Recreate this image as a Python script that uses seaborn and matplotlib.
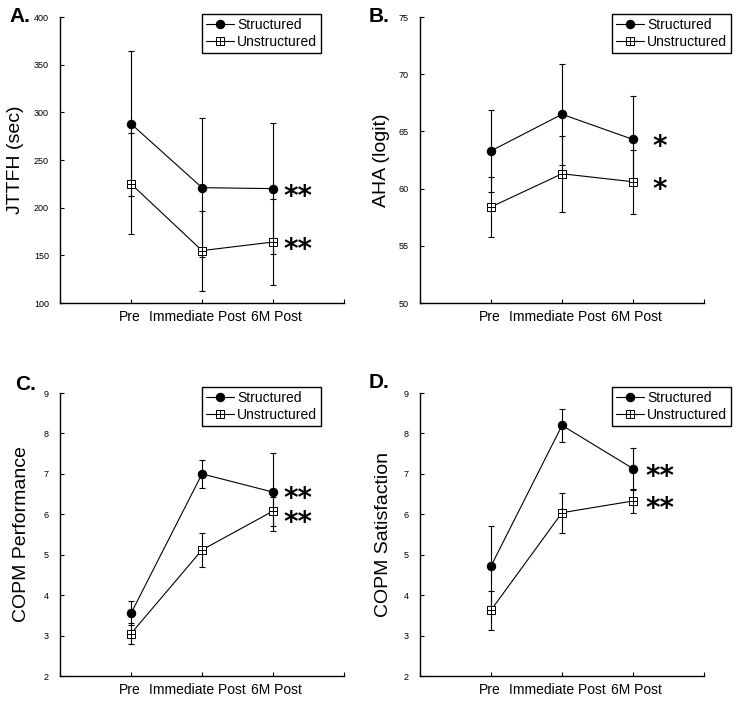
import matplotlib
matplotlib.use('Agg')
import matplotlib.pyplot as plt
import matplotlib.transforms as mtransforms
import numpy as np
import pandas as pd
import seaborn as sns
from matplotlib.path import Path

sns.set_style('ticks')
plt.rcParams['font.family'] = ['Liberation Sans', 'DejaVu Sans']
plt.rcParams.update({'text.color': 'black', 'axes.labelcolor': 'black',
                     'xtick.color': 'black', 'ytick.color': 'black'})

timepoints = ['Pre', 'Immediate Post', '6M Post']
x_pos = [1, 2, 3]

# A. JTTFH
jttfh_struct = [288, 221, 220]
jttfh_struct_err = [76, 73, 69]
jttfh_unstruct = [225, 155, 164]
jttfh_unstruct_err = [53, 42, 45]

# B. AHA
aha_struct = [63.3, 66.5, 64.3]
aha_struct_err = [3.6, 4.4, 3.8]
aha_unstruct = [58.4, 61.3, 60.6]
aha_unstruct_err = [2.6, 3.3, 2.8]

# C. COPM performance
perf_struct = [3.55, 7.0, 6.55]
perf_struct_err = [0.3, 0.34, 0.97]
perf_unstruct = [3.05, 5.12, 6.08]
perf_unstruct_err = [0.25, 0.42, 0.36]

# D. COPM satisfaction
sat_struct = [4.72, 8.2, 7.13]
sat_struct_err = [0.98, 0.4, 0.52]
sat_unstruct = [3.63, 6.04, 6.33]
sat_unstruct_err = [0.48, 0.49, 0.3]

# square with a cross inside
sq_cross = Path([(-1, -1), (1, -1), (1, 1), (-1, 1), (-1, -1), (0, -1), (0, 1), (-1, 0), (1, 0)],
                [Path.MOVETO, Path.LINETO, Path.LINETO, Path.LINETO, Path.CLOSEPOLY,
                 Path.MOVETO, Path.LINETO, Path.MOVETO, Path.LINETO])

panels = [
    dict(letter='A.', ylabel='JTTFH (sec)', s=jttfh_struct, se=jttfh_struct_err, u=jttfh_unstruct,
         ue=jttfh_unstruct_err, ylim=(100, 400), yticks=np.arange(100, 401, 50), stars='**', star_x=3.14,
         rect=[0.0811, 0.5714, 0.3838, 0.4045], leg=(0.919, 1.0105), lab_x=-0.155, let_xy=(9, 16),
         star_dy=(0, 0)),
    dict(letter='B.', ylabel='AHA (logit)', s=aha_struct, se=aha_struct_err, u=aha_unstruct,
         ue=aha_unstruct_err, ylim=(50, 75), yticks=np.arange(50, 76, 5), stars='*', star_x=3.28,
         rect=[0.5676, 0.5714, 0.3838, 0.4045], leg=(1.095, 1.0105), lab_x=-0.134, let_xy=(369, 16),
         star_dy=(0, 0)),
    dict(letter='C.', ylabel='COPM Performance', s=perf_struct, se=perf_struct_err, u=perf_unstruct,
         ue=perf_unstruct_err, ylim=(2, 9), yticks=np.arange(2, 10, 1), stars='**', star_x=3.14,
         rect=[0.0811, 0.0438, 0.3838, 0.4003], leg=(0.919, 1.021), lab_x=-0.134, let_xy=(15, 385),
         star_dy=(1, -3)),
    dict(letter='D.', ylabel='COPM Satisfaction', s=sat_struct, se=sat_struct_err, u=sat_unstruct,
         ue=sat_unstruct_err, ylim=(2, 9), yticks=np.arange(2, 10, 1), stars='**', star_x=3.17,
         rect=[0.5676, 0.0438, 0.3838, 0.4003], leg=(1.095, 1.021), lab_x=-0.13, let_xy=(369, 382),
         star_dy=(0, 0)),
]

# small horizontal nudges (points) so the tick labels do not run together
label_shift = [0, -0.7, -3.6, 2.2, 0]

fig = plt.figure(figsize=(7.4, 7.07), dpi=100)

for p in panels:
    ax = fig.add_axes(p['rect'])
    ax.errorbar(x_pos, p['s'], yerr=p['se'], fmt='none', ecolor='black', elinewidth=0.8,
                capsize=2, capthick=0.8, zorder=1.5)
    ax.errorbar(x_pos, p['u'], yerr=p['ue'], fmt='none', ecolor='black', elinewidth=0.8,
                capsize=2, capthick=0.8, zorder=1.5)
    sns.lineplot(x=x_pos, y=p['s'], color='black', lw=0.8, marker='o', markersize=6,
                 mfc='black', mec='black', mew=0.8, label='Structured', ax=ax, zorder=3)
    sns.lineplot(x=x_pos, y=p['u'], color='black', lw=0.8, marker=sq_cross, markersize=5.5,
                 mfc='white', mec='black', mew=0.7, label='Unstructured', ax=ax, zorder=3)

    for val, dy in zip([p['s'][2], p['u'][2]], p['star_dy']):
        ax.annotate(p['stars'], xy=(p['star_x'], val), xytext=(0, -11.5 + dy), textcoords='offset points',
                    ha='left', va='baseline', fontsize=20, fontweight='bold',
                    family=['DejaVu Sans'], color='black')

    ax.set_xlim(0, 4)
    ax.set_xticks([0, 1, 2, 3, 4])
    ax.set_xticklabels([''] + timepoints + [''])
    ax.set_ylim(*p['ylim'])
    ax.set_yticks(p['yticks'])
    ax.set_xlabel('')
    ax.set_ylabel(p['ylabel'], fontsize=14, va='center')
    ax.yaxis.set_label_coords(p['lab_x'], 0.5)
    ax.tick_params(axis='both', direction='in', length=3, width=0.8, color='black')
    ax.tick_params(axis='x', labelsize=10, pad=5)
    ax.tick_params(axis='y', labelsize=6.5, pad=8)
    for lbl, dx in zip(ax.get_xticklabels(), label_shift):
        lbl.set_transform(lbl.get_transform() + mtransforms.ScaledTranslation(dx / 72, 0, fig.dpi_scale_trans))
    sns.despine(ax=ax)
    for sp in ['left', 'bottom']:
        ax.spines[sp].set_linewidth(1.0)
        ax.spines[sp].set_color('black')

    leg = ax.legend(loc='upper right', bbox_to_anchor=p['leg'], borderaxespad=0, fontsize=10,
                    frameon=True, fancybox=False, edgecolor='black', framealpha=1,
                    handlelength=2, handletextpad=0.2, borderpad=0.3, labelspacing=0.2)
    leg.get_frame().set_linewidth(1.0)

    lx, ly = p['let_xy']
    fig.text(lx / 740, 1 - ly / 707, p['letter'], fontsize=15, fontweight='bold',
             ha='left', va='center')

fig.savefig('out.png', dpi=100)
